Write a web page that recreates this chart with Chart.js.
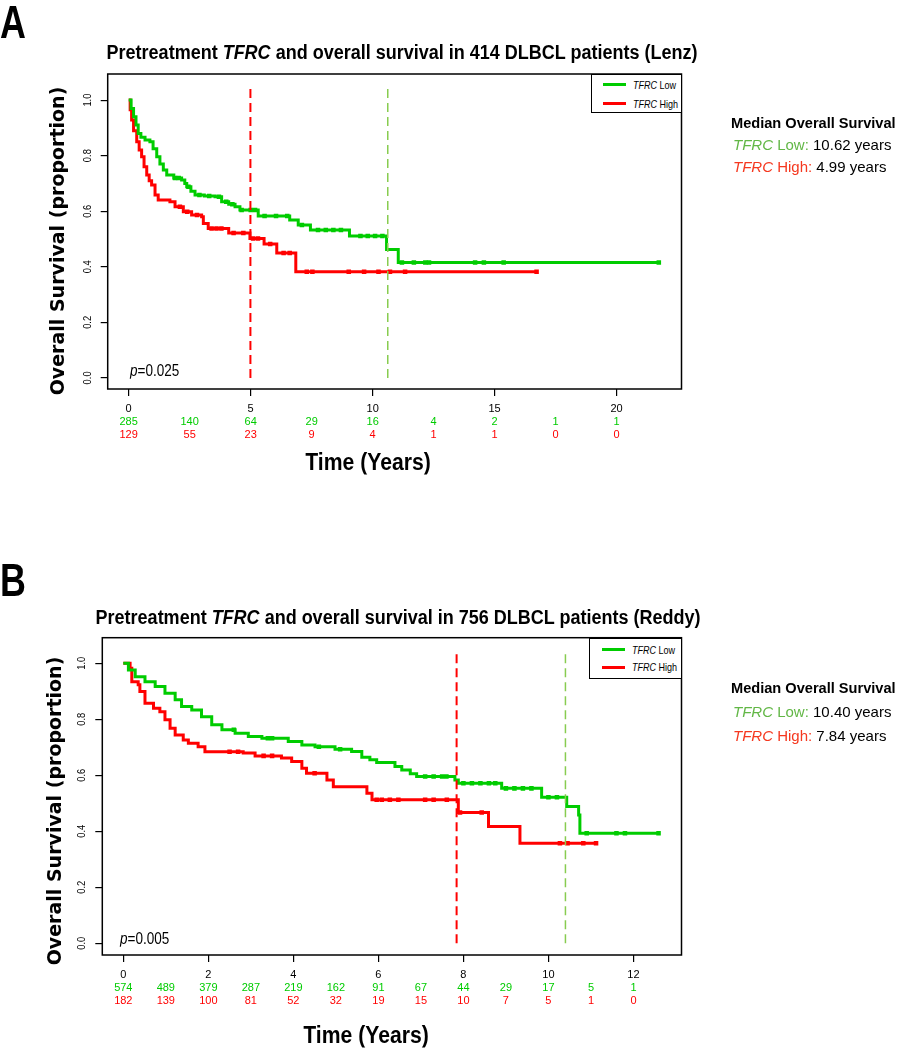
<!DOCTYPE html>
<html>
<head>
<meta charset="utf-8">
<script src="https://cdn.jsdelivr.net/npm/chart.js@4.4.1/dist/chart.umd.min.js"></script>
<style>
  body { margin: 0; background: #fff; }
  #wrap { position: relative; width: 898px; height: 1050px; overflow: hidden; font-family: "Liberation Sans", Arial, sans-serif; color: #000; }
  canvas { position: absolute; left: 0; }
  .t { position: absolute; white-space: nowrap; line-height: 1; }
  /* R's condensed look: squeeze Liberation Sans sideways */
  .l { transform-origin: 0 50%; transform: translate(0, -50%) scaleX(0.82); }
  .panel { font-weight: bold; font-size: 46px; transform: translate(0, -50%) scaleX(0.78); transform-origin: 0 50%; }
  .title { font-weight: bold; font-size: 20px; transform: translate(-50%, -50%) scaleX(0.9); }
  .ytitle { font-family: "DejaVu Sans", sans-serif; font-weight: bold; font-size: 19px; transform: translate(-50%, -50%) rotate(-90deg); }
  .xtitle { font-weight: bold; font-size: 23px; transform: translate(-50%, -50%) scaleX(0.92); }
  .pval { font-size: 16.5px; }
  .legbox { position: absolute; border: 1.4px solid #000; box-sizing: border-box; background: #fff; }
  .legline { position: absolute; height: 3px; width: 23px; }
  .legtxt { font-size: 11px; }
  .med { font-size: 15px; transform: translate(0, -50%); }
  .med b { font-size: 14.6px; }
  .lo { color: #62b746; }
  .hi { color: #f5381f; }
</style>
</head>
<body>
<div id="wrap">
  <canvas id="chartA" width="898" height="450" style="top:0"></canvas>
  <canvas id="chartB" width="898" height="490" style="top:560px"></canvas>

  <div class="t panel" style="left:0;top:22px">A</div>
  <div class="t title" style="left:402px;top:52px">Pretreatment <i>TFRC</i> and overall survival in 414 DLBCL patients (Lenz)</div>
  <div class="t ytitle" style="left:57px;top:241px">Overall Survival (proportion)</div>
  <div class="t xtitle" style="left:368px;top:462px">Time (Years)</div>
  <div class="t l pval" style="left:130px;top:370px"><i>p</i>=0.025</div>
  <div class="legbox" style="left:591px;top:74px;width:91px;height:39px"></div>
  <div class="legline" style="left:603px;top:83px;background:#00cc00"></div>
  <div class="legline" style="left:603px;top:102px;background:#ff0000"></div>
  <div class="t l legtxt" style="left:633px;top:84.5px"><i>TFRC</i> Low</div>
  <div class="t l legtxt" style="left:633px;top:103.5px"><i>TFRC</i> High</div>
  <div class="t med" style="left:731px;top:123px"><b>Median Overall Survival</b></div>
  <div class="t med" style="left:733px;top:144px"><span class="lo"><i>TFRC</i> Low:</span> 10.62 years</div>
  <div class="t med" style="left:733px;top:166px"><span class="hi"><i>TFRC</i> High:</span> 4.99 years</div>

  <div class="t panel" style="left:0;top:580px">B</div>
  <div class="t title" style="left:398px;top:617px">Pretreatment <i>TFRC</i> and overall survival in 756 DLBCL patients (Reddy)</div>
  <div class="t ytitle" style="left:54px;top:811px">Overall Survival (proportion)</div>
  <div class="t xtitle" style="left:366px;top:1035px">Time (Years)</div>
  <div class="t l pval" style="left:120px;top:938px"><i>p</i>=0.005</div>
  <div class="legbox" style="left:589px;top:638px;width:93px;height:41px"></div>
  <div class="legline" style="left:602px;top:648px;background:#00cc00"></div>
  <div class="legline" style="left:602px;top:665.5px;background:#ff0000"></div>
  <div class="t l legtxt" style="left:632px;top:649.5px"><i>TFRC</i> Low</div>
  <div class="t l legtxt" style="left:632px;top:667px"><i>TFRC</i> High</div>
  <div class="t med" style="left:731px;top:688px"><b>Median Overall Survival</b></div>
  <div class="t med" style="left:733px;top:711px"><span class="lo"><i>TFRC</i> Low:</span> 10.40 years</div>
  <div class="t med" style="left:733px;top:735px"><span class="hi"><i>TFRC</i> High:</span> 7.84 years</div>
</div>

<script>
// y ticks shared by both panels
const yTicks = [0, 0.2, 0.4, 0.6, 0.8, 1.0];

// ---- Panel A (Lenz) ----
const xTicksA = [0, 5, 10, 15, 20];
const riskTimesA = [0, 2.5, 5, 7.5, 10, 12.5, 15, 17.5, 20];
const riskLowA = [285, 140, 64, 29, 16, 4, 2, 1, 1];
const riskHighA = [129, 55, 23, 9, 4, 1, 1, 0, 0];
const lowTimesA = [0, 0.1, 0.2, 0.3, 0.39, 0.5, 0.67, 0.87, 1.0, 1.15, 1.28, 1.42, 1.56, 1.85, 2.17, 2.3, 2.38, 2.55, 2.72, 3.1, 3.54, 3.81, 4.1, 4.36, 4.56, 5.31, 6.6, 6.95, 7.45, 9.05, 10.57, 11.05, 21.73];
const lowSurvA = [1.0, 0.97, 0.94, 0.91, 0.88, 0.866, 0.856, 0.85, 0.825, 0.796, 0.77, 0.748, 0.73, 0.72, 0.712, 0.7, 0.688, 0.672, 0.658, 0.655, 0.652, 0.634, 0.625, 0.616, 0.604, 0.583, 0.568, 0.55, 0.532, 0.511, 0.462, 0.415, 0.415];
const highTimesA = [0, 0.06, 0.12, 0.2, 0.33, 0.43, 0.53, 0.63, 0.74, 0.84, 0.94, 1.08, 1.21, 1.69, 1.9, 2.24, 2.58, 2.99, 3.06, 3.26, 4.1, 4.97, 5.55, 6.07, 6.85, 16.72];
const highSurvA = [1.0, 0.965, 0.928, 0.89, 0.85, 0.82, 0.796, 0.76, 0.73, 0.71, 0.694, 0.658, 0.64, 0.634, 0.616, 0.598, 0.586, 0.58, 0.556, 0.538, 0.522, 0.502, 0.482, 0.45, 0.382, 0.382];
const lowCensorA = [1.9, 2.05, 2.45, 2.9, 3.3, 3.7, 4.0, 4.25, 4.63, 5.0, 5.18, 5.57, 6.04, 6.5, 7.1, 7.76, 8.08, 8.39, 8.7, 9.5, 9.8, 10.1, 10.4, 11.2, 11.69, 12.16, 12.31, 14.2, 14.56, 15.37, 21.73];
const highCensorA = [2.1, 2.4, 2.8, 3.4, 3.6, 3.8, 4.3, 4.7, 5.1, 5.3, 5.8, 6.35, 6.6, 7.3, 7.53, 9.02, 9.65, 10.24, 10.71, 11.33, 16.72];
const medianLowA = 10.62;
const medianHighA = 4.99;

// ---- Panel B (Reddy) ----
const xTicksB = [0, 2, 4, 6, 8, 10, 12];
const riskTimesB = [0, 1, 2, 3, 4, 5, 6, 7, 8, 9, 10, 11, 12];
const riskLowB = [574, 489, 379, 287, 219, 162, 91, 67, 44, 29, 17, 5, 1];
const riskHighB = [182, 139, 100, 81, 52, 32, 19, 15, 10, 7, 5, 1, 0];
const lowTimesB = [0, 0.12, 0.28, 0.51, 0.75, 0.98, 1.22, 1.37, 1.61, 1.84, 2.08, 2.32, 2.63, 2.94, 3.26, 3.88, 4.2, 4.51, 4.98, 5.37, 5.61, 5.8, 5.96, 6.39, 6.55, 6.75, 6.9, 7.8, 7.88, 8.9, 9.84, 10.43, 10.71, 10.74, 12.59];
const lowSurvB = [1.0, 0.976, 0.952, 0.934, 0.917, 0.893, 0.869, 0.845, 0.833, 0.809, 0.78, 0.762, 0.75, 0.738, 0.732, 0.72, 0.708, 0.702, 0.693, 0.685, 0.664, 0.655, 0.645, 0.631, 0.619, 0.605, 0.595, 0.583, 0.571, 0.553, 0.521, 0.488, 0.458, 0.393, 0.393];
const highTimesB = [0, 0.16, 0.2, 0.35, 0.39, 0.51, 0.71, 0.86, 0.98, 1.1, 1.22, 1.41, 1.53, 1.76, 1.92, 2.82, 3.1, 3.72, 3.96, 4.2, 4.31, 4.79, 4.94, 5.73, 5.85, 7.88, 8.59, 9.33, 11.12];
const highSurvB = [1.0, 0.982, 0.934, 0.923, 0.899, 0.857, 0.839, 0.827, 0.798, 0.768, 0.744, 0.726, 0.714, 0.702, 0.684, 0.679, 0.669, 0.661, 0.649, 0.625, 0.607, 0.583, 0.559, 0.536, 0.512, 0.467, 0.417, 0.357, 0.357];
const lowCensorB = [2.6, 3.4, 3.5, 4.6, 5.1, 7.1, 7.3, 7.5, 7.6, 8.0, 8.2, 8.4, 8.6, 8.75, 9.0, 9.2, 9.4, 9.6, 10.0, 10.2, 10.9, 11.6, 11.8, 12.59];
const highCensorB = [2.5, 2.7, 3.3, 3.5, 4.5, 5.96, 6.08, 6.27, 6.47, 7.1, 7.3, 7.61, 7.92, 8.43, 10.27, 10.45, 10.82, 11.12];
const medianLowB = 10.40;
const medianHighB = 7.84;

const GREEN = "#00cc00";
const RED = "#ff0000";

// survival value of a step curve at time t
function survAt(times, surv, t) {
  let s = surv[0];
  for (let i = 0; i < times.length; i++) {
    if (times[i] <= t) s = surv[i];
  }
  return s;
}

// frame around the plot region, like R's box()
const boxPlugin = {
  id: "box",
  afterDraw(chart) {
    const { ctx, chartArea: a } = chart;
    ctx.save();
    ctx.strokeStyle = "#000";
    ctx.lineWidth = 1.5;
    ctx.strokeRect(a.left, a.top, a.right - a.left, a.bottom - a.top);
    ctx.restore();
  }
};

// R style y labels, turned to read upwards
const yLabelPlugin = {
  id: "yLabels",
  afterDraw(chart) {
    const { ctx, chartArea: a } = chart;
    const y = chart.scales.y;
    ctx.save();
    ctx.font = '11px "Liberation Sans", Arial, sans-serif';
    ctx.fillStyle = "#000";
    ctx.textAlign = "center";
    ctx.textBaseline = "middle";
    y.ticks.forEach(t => {
      ctx.save();
      ctx.translate(a.left - 20, y.getPixelForValue(t.value));
      ctx.rotate(-Math.PI / 2);
      ctx.scale(0.85, 1);
      ctx.fillText(t.value.toFixed(1), 0, 0);
      ctx.restore();
    });
    ctx.restore();
  }
};

function makePanel(id, d) {
  const curve = (times, surv, color) => ({
    data: times.map((t, i) => ({ x: t, y: surv[i] })),
    stepped: "before",
    borderColor: color,
    borderWidth: 3,
    pointRadius: 0,
    fill: false,
    order: 3
  });
  const censors = (cens, times, surv, color) => ({
    data: cens.map(t => ({ x: t, y: survAt(times, surv, t) })),
    showLine: false,
    pointStyle: "rect",
    pointRadius: 3.2,
    pointBackgroundColor: color,
    pointBorderWidth: 0,
    order: 2
  });
  const medianLine = (m, color, w) => ({
    data: [{ x: m, y: 0 }, { x: m, y: 1.04 }],
    borderColor: color,
    borderWidth: w,
    borderDash: [9, 5],
    pointRadius: 0,
    order: 1
  });
  const riskAxis = (times, counts, color) => ({
    type: "linear",
    position: "bottom",
    min: d.xMin,
    max: d.xMax,
    afterBuildTicks: s => { s.ticks = times.map(v => ({ value: v })); },
    afterFit: s => { s.height = 13; },
    grid: { display: false, drawTicks: false },
    border: { display: false },
    ticks: {
      color: color,
      padding: 0,
      autoSkip: false,
      maxRotation: 0,
      minRotation: 0,
      font: { family: "Liberation Sans", size: 11 },
      callback: (v, i) => String(counts[i])
    }
  });

  return new Chart(document.getElementById(id), {
    type: "line",
    data: {
      datasets: [
        medianLine(d.medHigh, RED, 2),
        medianLine(d.medLow, "#88cc50", 1.5),
        censors(d.lowCens, d.lowT, d.lowS, GREEN),
        censors(d.highCens, d.highT, d.highS, RED),
        curve(d.lowT, d.lowS, GREEN),
        curve(d.highT, d.highS, RED)
      ]
    },
    options: {
      responsive: false,
      animation: false,
      layout: { padding: { top: d.padTop, right: 216.5, bottom: d.padBottom, left: 0 } },
      plugins: { legend: { display: false }, tooltip: { enabled: false } },
      scales: {
        x: {
          type: "linear",
          position: "bottom",
          min: d.xMin,
          max: d.xMax,
          afterBuildTicks: s => { s.ticks = d.xTicks.map(v => ({ value: v })); },
          afterFit: s => { s.height = 26; },
          grid: { drawOnChartArea: false, drawTicks: true, tickLength: 7, color: "#000", lineWidth: 1.2 },
          border: { display: false },
          ticks: {
            color: "#000",
            padding: 6,
            autoSkip: false,
            maxRotation: 0,
            minRotation: 0,
            font: { family: "Liberation Sans", size: 11 },
            callback: v => String(v)
          }
        },
        xLow: riskAxis(d.riskT, d.riskLow, GREEN),
        xHigh: riskAxis(d.riskT, d.riskHigh, RED),
        y: {
          type: "linear",
          position: "left",
          min: d.yMin,
          max: d.yMax,
          afterBuildTicks: s => { s.ticks = yTicks.map(v => ({ value: v })); },
          afterFit: s => { s.width = d.left; },
          grid: { drawOnChartArea: false, drawTicks: true, tickLength: 7, color: "#000", lineWidth: 1.2 },
          border: { display: false },
          ticks: { display: false }
        }
      }
    },
    plugins: [boxPlugin, yLabelPlugin]
  });
}

makePanel("chartA", {
  xTicks: xTicksA, riskT: riskTimesA, riskLow: riskLowA, riskHigh: riskHighA,
  lowT: lowTimesA, lowS: lowSurvA, highT: highTimesA, highS: highSurvA,
  lowCens: lowCensorA, highCens: highCensorA,
  medLow: medianLowA, medHigh: medianHighA,
  xMin: -0.86, xMax: 22.66, yMin: -0.04, yMax: 1.094,
  left: 107.7, padTop: 74, padBottom: 9
});

makePanel("chartB", {
  xTicks: xTicksB, riskT: riskTimesB, riskLow: riskLowB, riskHigh: riskHighB,
  lowT: lowTimesB, lowS: lowSurvB, highT: highTimesB, highS: highSurvB,
  lowCens: lowCensorB, highCens: highCensorB,
  medLow: medianLowB, medHigh: medianHighB,
  xMin: -0.494, xMax: 13.13, yMin: -0.042, yMax: 1.091,
  left: 102.3, padTop: 77.7, padBottom: 43
});
</script>
</body>
</html>
